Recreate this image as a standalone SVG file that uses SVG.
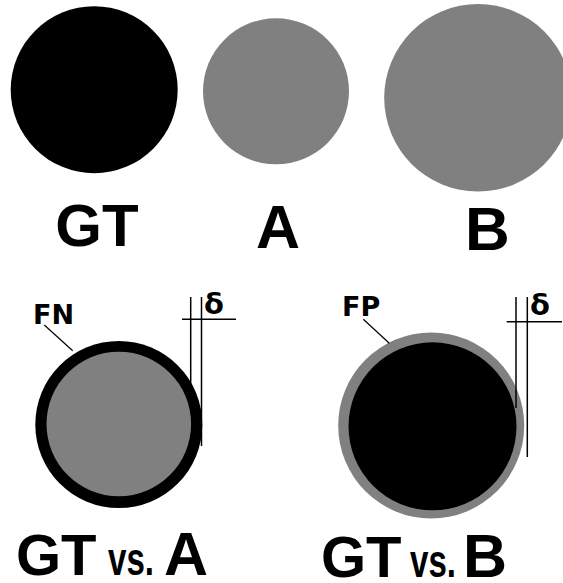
<svg xmlns="http://www.w3.org/2000/svg" width="563" height="583" viewBox="0 0 563 583">
<style>
.lbl{font-family:"Liberation Sans",Arial,sans-serif;font-weight:bold;fill:#000}
.sm{font-family:"DejaVu Sans","Liberation Sans",sans-serif;font-weight:bold;fill:#000}
.ln{stroke:#000;stroke-width:1.5;fill:none}
.ld{stroke:#000;stroke-width:1.2;fill:none}
.g{fill:#808080}
.k{fill:#000}
</style>
<rect width="563" height="583" fill="#fff"/>
<g id="gt">
<circle class="k" cx="94.2" cy="89.7" r="83.5"/>
<text class="lbl" x="97" y="246" font-size="60" text-anchor="middle">GT</text>
</g>
<g id="a">
<circle class="g" cx="276" cy="91.3" r="73"/>
<text class="lbl" x="278" y="247.5" font-size="61" text-anchor="middle">A</text>
</g>
<g id="b">
<circle class="g" cx="478" cy="97.8" r="93.8"/>
<text class="lbl" x="487.5" y="250" font-size="62" text-anchor="middle">B</text>
</g>
<g id="gt-vs-a">
<circle class="k" cx="118.8" cy="424.5" r="83.5"/>
<circle class="g" cx="118.8" cy="424" r="72.3"/>
<text class="sm" x="33" y="324" font-size="27">FN</text>
<text class="sm" x="204" y="314" font-size="29">δ</text>
<text class="lbl" x="16" y="575" font-size="58">GT</text>
<text class="lbl" font-size="46" transform="translate(108,575) scale(0.72,1)">vs.</text>
<text class="lbl" x="164" y="575" font-size="61">A</text>
</g>
<g id="gt-vs-b">
<circle class="g" cx="431.2" cy="425.5" r="93"/>
<circle class="k" cx="432.5" cy="426.3" r="84"/>
<text class="sm" x="342" y="316" font-size="27">FP</text>
<text class="sm" x="530" y="315" font-size="29">δ</text>
<text class="lbl" x="321" y="577" font-size="58">GT</text>
<text class="lbl" font-size="46" transform="translate(410,577) scale(0.72,1)">vs.</text>
<text class="lbl" x="463" y="577" font-size="61">B</text>
</g>
<g id="connectors">
<line class="ld" x1="44.3" y1="325" x2="72.7" y2="350.7"/>
<line class="ln" x1="190.7" y1="297" x2="190.7" y2="392"/>
<line class="ln" x1="201.5" y1="297" x2="201.5" y2="446"/>
<line class="ln" x1="182" y1="319.3" x2="236" y2="319.3"/>
<line class="ld" x1="363.3" y1="319.3" x2="389.3" y2="343.3"/>
<line class="ln" x1="516" y1="297" x2="516" y2="408"/>
<line class="ln" x1="527.3" y1="297" x2="527.3" y2="457"/>
<line class="ln" x1="506.7" y1="321.7" x2="562" y2="321.7"/>
</g>
</svg>
